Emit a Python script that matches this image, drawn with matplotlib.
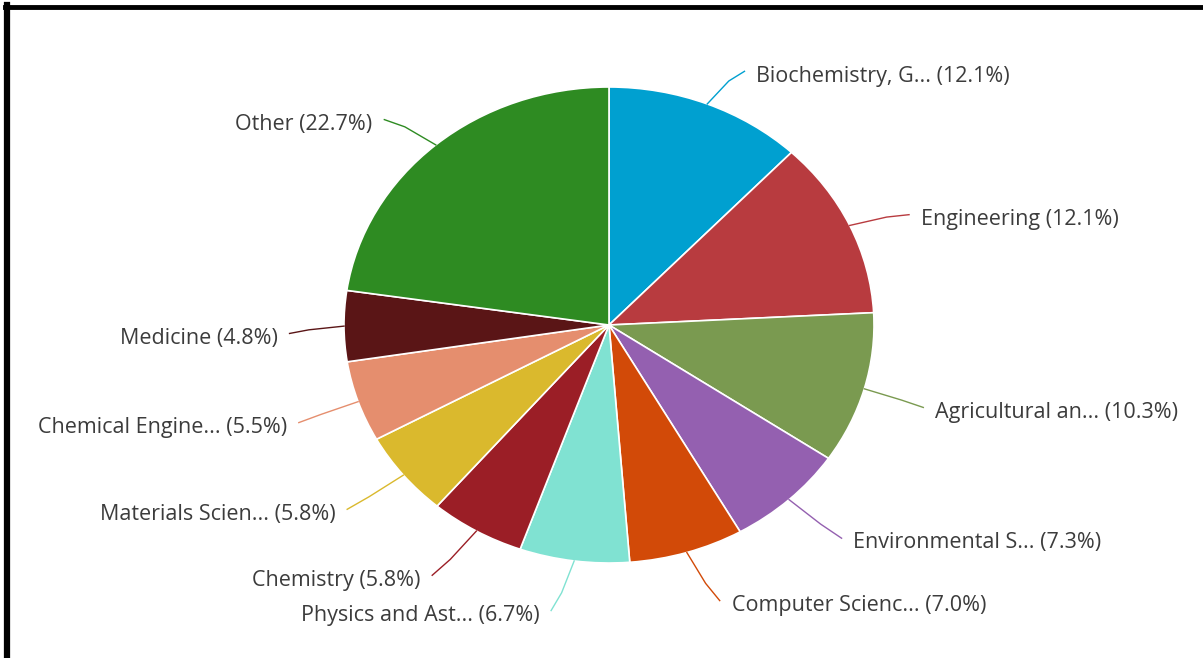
import numpy as np
import matplotlib.pyplot as plt
from matplotlib.lines import Line2D

# Subject areas and their shares (%)
labels = ['Biochemistry, G...', 'Engineering', 'Agricultural an...', 'Environmental S...',
          'Computer Scienc...', 'Physics and Ast...', 'Chemistry', 'Materials Scien...',
          'Chemical Engine...', 'Medicine', 'Other']
shares = [12.1, 12.1, 10.3, 7.3, 7.0, 6.7, 5.8, 5.8, 5.5, 4.8, 22.7]
colors = ['#00a0d0', '#b83b3f', '#7a9a50', '#9460b0', '#d24a08', '#80e2d2',
          '#9b1e26', '#dab92d', '#e58e6e', '#5a1516', '#2e8b22']

plt.rcParams['font.family'] = ['Open Sans', 'DejaVu Sans']

fig = plt.figure(figsize=(12.03, 6.58), dpi=100)
W, H = 1203, 658
cx, cy, rx, ry = 609, 325, 265, 238
ax = fig.add_axes([(cx - rx) / W, (H - cy - ry) / H, 2 * rx / W, 2 * ry / H])

wedges, _ = ax.pie(shares, colors=colors, startangle=90, counterclock=False,
                   radius=1, wedgeprops=dict(edgecolor='white', linewidth=1.2))
ax.set_aspect('auto')
ax.set_xlim(-1, 1)
ax.set_ylim(-1, 1)
ax.axis('off')

total = sum(shares)
cum = 0
for lab, val, col in zip(labels, shares, colors):
    mid = np.deg2rad(90 - (cum + val / 2) / total * 360)
    cum += val
    c, s = np.cos(mid), np.sin(mid)
    sign = 1 if c >= 0 else -1
    # label placement (roughly like the original chart lib)
    tx = 1.25 * c + sign * 0.1 * abs(s)
    ty = 1.18 * s - 0.05
    ex, ey = tx - sign * 0.045, ty + 0.02
    ax.plot([c, (c + ex) / 2 + 0.03 * c, ex], [s, (s + ey) / 2 + 0.03 * s, ey],
            color=col, lw=1, clip_on=False)
    ax.text(tx, ty, f'{lab} ({val:.1f}%)', ha='left' if sign > 0 else 'right',
            va='center', fontsize=15.5, color='#3c3c3c', clip_on=False)

# frame lines of the screenshot
fig.add_artist(Line2D([0.0045, 1], [1 - 7 / H, 1 - 7 / H], color='black', lw=3.5,
                      transform=fig.transFigure))
fig.add_artist(Line2D([7 / W, 7 / W], [0, 1 - 5 / H], color='black', lw=4.5,
                      transform=fig.transFigure))

fig.savefig('out.png', dpi=100)
